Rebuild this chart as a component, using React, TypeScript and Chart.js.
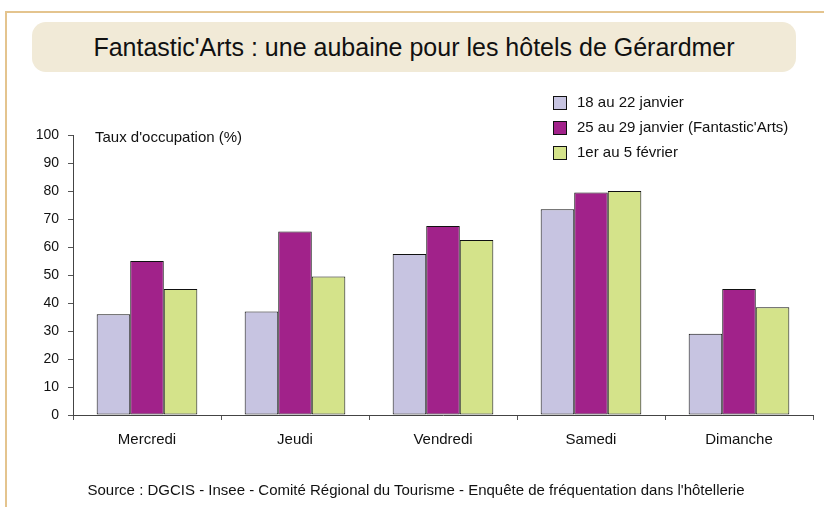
import React, { useEffect, useRef } from "react";
import { Chart, registerables } from "chart.js";

Chart.register(...registerables);

const categories = ["Mercredi", "Jeudi", "Vendredi", "Samedi", "Dimanche"];
const seriesNames = ["18 au 22 janvier", "25 au 29 janvier (Fantastic'Arts)", "1er au 5 février"];
const week1 = [36, 37, 57.5, 73.5, 29];
const week2 = [55, 65.5, 67.5, 79.5, 45];
const week3 = [45, 49.5, 62.5, 80, 38.5];
const seriesColors = ["#C7C4E1", "#A1228A", "#D4E38A"];
const yTicks = [0, 10, 20, 30, 40, 50, 60, 70, 80, 90, 100];

const FONT = 'Arial, "Liberation Sans", sans-serif';

const legendPlugin = {
  id: "customLegend",
  afterDraw(chart: any) {
    const ctx = chart.ctx;
    ctx.save();
    chart.data.datasets.forEach((ds: any, i: number) => {
      const x = 553;
      const y = 96 + i * 25;
      ctx.fillStyle = ds.backgroundColor;
      ctx.fillRect(x, y, 13, 13);
      ctx.strokeStyle = "#111";
      ctx.lineWidth = 1;
      ctx.strokeRect(x + 0.5, y + 0.5, 13, 13);
      ctx.fillStyle = "#111";
      ctx.font = "15px " + FONT;
      ctx.textBaseline = "middle";
      ctx.textAlign = "left";
      ctx.fillText(ds.label, 577, y + 7);
    });
    ctx.font = "15px " + FONT;
    ctx.fillStyle = "#111";
    ctx.textBaseline = "middle";
    ctx.fillText("Taux d'occupation (%)", 95, 138);
    ctx.restore();
  },
};

function App() {
  const ref = useRef<HTMLCanvasElement | null>(null);
  useEffect(() => {
    document.body.style.margin = "0";
    const data = [week1, week2, week3];
    const chart = new Chart(ref.current as HTMLCanvasElement, {
      type: "bar",
      data: {
        labels: categories,
        datasets: seriesNames.map((name, i) => ({
          label: name,
          data: data[i],
          backgroundColor: seriesColors[i],
          borderColor: "#111",
          borderWidth: 1,
          borderSkipped: false as any,
          categoryPercentage: 0.68,
          barPercentage: 1.0,
        })),
      },
      options: {
        animation: false,
        responsive: false,
        maintainAspectRatio: false,
        layout: { padding: { left: 33, top: 135, right: 11, bottom: 52 } },
        plugins: { legend: { display: false }, tooltip: { enabled: false }, title: { display: false } },
        scales: {
          x: {
            afterFit: (s: any) => { s.height = 40; },
            grid: { display: true, drawOnChartArea: false, drawTicks: true, tickLength: 5, color: "#555", offset: true },
            border: { display: true, color: "#444", width: 1 },
            ticks: { color: "#111", font: { family: FONT, size: 15 }, padding: 11 },
          },
          y: {
            min: 0,
            max: 100,
            afterFit: (s: any) => { s.width = 40; },
            afterBuildTicks: (s: any) => { s.ticks = yTicks.map((v) => ({ value: v })); },
            grid: { display: true, drawOnChartArea: false, drawTicks: true, tickLength: 5, color: "#555" },
            border: { display: true, color: "#444", width: 1 },
            ticks: { color: "#111", font: { family: FONT, size: 14 }, padding: 9 },
          },
        },
      },
      plugins: [legendPlugin],
    });
    return () => chart.destroy();
  }, []);

  return (
    <div style={{ position: "relative", width: 824, height: 507, background: "#fff", overflow: "hidden", fontFamily: FONT }}>
      <div style={{ position: "absolute", left: 5, top: 11, right: 0, height: 2, background: "#E4C48E" }} />
      <div style={{ position: "absolute", left: 5, top: 11, bottom: 0, width: 2, background: "#E4C48E" }} />
      <div
        style={{
          position: "absolute",
          left: 32,
          top: 22,
          width: 764,
          height: 50,
          background: "#F1EAD7",
          borderRadius: 14,
          display: "flex",
          alignItems: "center",
          justifyContent: "center",
          fontSize: 25,
          color: "#111",
        }}
      >
        Fantastic'Arts : une aubaine pour les hôtels de Gérardmer
      </div>
      <canvas ref={ref} width={824} height={507} style={{ position: "absolute", left: 0, top: 0 }} />
      <div style={{ position: "absolute", left: 0, width: 832, top: 481, textAlign: "center", fontSize: 15, color: "#111" }}>
        Source : DGCIS - Insee - Comité Régional du Tourisme - Enquête de fréquentation dans l'hôtellerie
      </div>
    </div>
  );
}

export default App;
